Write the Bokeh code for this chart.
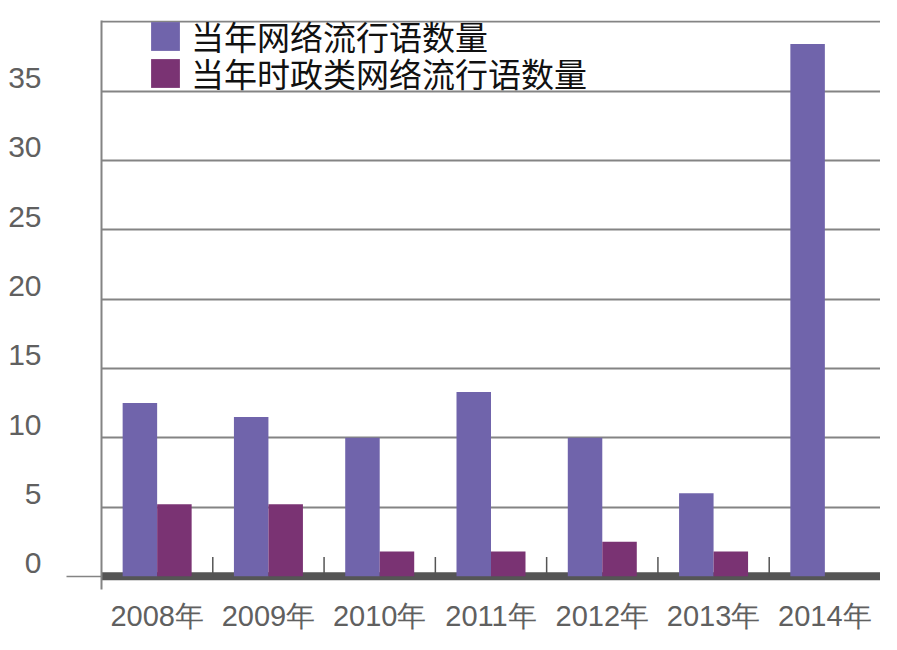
from bokeh.plotting import figure
from bokeh.models import (FactorRange, Range1d, LinearAxis, CategoricalAxis,
                          FixedTicker, Grid, Span, ColumnDataSource, Legend, LegendItem)
from bokeh.transform import dodge
from bokeh.embed import file_html
from bokeh.resources import INLINE

# ---- data ----
years = ["2008年", "2009年", "2010年", "2011年", "2012年", "2013年", "2014年"]
total_counts = [12.5, 11.5, 10, 13.3, 10, 6, 38.4]
political_counts = [5.2, 5.2, 1.8, 1.8, 2.5, 1.8, 0]
series_names = ["当年网络流行语数量", "当年时政类网络流行语数量"]
y_tick_values = [0, 5, 10, 15, 20, 25, 30, 35]
grid_values = [5, 10, 15, 20, 25, 30, 35, 40]

PURPLE = "#7064AB"
PLUM = "#7A3373"
GRID = "#848484"
AXIS_DARK = "#555555"
LABEL_GRAY = "#606060"
NUM_FONT = "Liberation Sans"

Y0, Y1 = -0.95, 40.1
LABEL_LIFT = 0.95  # tick labels sit a little above their grid lines

src = ColumnDataSource(dict(year=years, total=total_counts, pol=political_counts))

p = figure(width=880, height=634,
           x_range=FactorRange(*years), y_range=Range1d(Y0, Y1),
           output_backend="svg", toolbar_location=None,
           x_axis_location=None, y_axis_location=None,
           min_border_left=101, min_border_right=0,
           min_border_top=20, min_border_bottom=44)
p.outline_line_color = None
for r in list(p.center):
    if isinstance(r, Grid):
        r.visible = False
p.extra_y_ranges = {"labels": Range1d(Y0 - LABEL_LIFT, Y1 - LABEL_LIFT)}

# horizontal grid
p.add_layout(Grid(dimension=1, ticker=FixedTicker(ticks=grid_values),
                  grid_line_color=GRID, grid_line_width=2, level="underlay"))

# thick baseline
p.add_layout(Span(location=0, dimension="width", line_color=AXIS_DARK,
                  line_width=8, level="underlay"))

# boundary tick marks between categories
bsrc = ColumnDataSource(dict(b=years[:-1]))
p.segment(x0=dodge("b", 0.5, range=p.x_range), x1=dodge("b", 0.5, range=p.x_range),
          y0=0, y1=1.4, source=bsrc, line_color=AXIS_DARK, line_width=1.5)

bw = 0.31
r1 = p.vbar(x=dodge("year", -bw / 2, range=p.x_range), top="total", width=bw,
            source=src, fill_color=PURPLE, line_color=None)
r2 = p.vbar(x=dodge("year", bw / 2, range=p.x_range), top="pol", width=bw,
            source=src, fill_color=PLUM, line_color=None)

# left axes: inner one draws the vertical line and the zero tick, outer one the labels
tick_axis = LinearAxis(ticker=FixedTicker(ticks=[0]), axis_line_color=GRID,
                       axis_line_width=2, major_tick_out=35, major_tick_in=0,
                       major_tick_line_color=GRID, major_tick_line_width=1.5,
                       minor_tick_line_color=None, major_label_text_font_size="1px",
                       major_label_overrides={0: ""},
                       major_label_standoff=0)
label_axis = LinearAxis(ticker=FixedTicker(ticks=y_tick_values), axis_line_color=None,
                        y_range_name="labels",
                        major_tick_line_color=None, minor_tick_line_color=None,
                        major_label_standoff=19, major_label_text_font=NUM_FONT,
                        major_label_text_font_size="30px",
                        major_label_text_color=LABEL_GRAY)
p.add_layout(tick_axis, "left")
p.add_layout(label_axis, "left")

xaxis = CategoricalAxis(axis_line_color=None, major_tick_line_color=None,
                        minor_tick_line_color=None, major_label_standoff=4,
                        major_label_text_font=NUM_FONT,
                        major_label_text_font_size="29px",
                        major_label_text_color=LABEL_GRAY)
p.add_layout(xaxis, "below")


def make_legend(name, renderer, loc):
    lg = Legend(items=[LegendItem(label=name, renderers=[renderer])],
                location=loc, padding=0, spacing=0, margin=0,
                glyph_width=36, glyph_height=36, label_height=37,
                label_standoff=8, border_line_color=None,
                background_fill_alpha=0, label_text_font="Noto Sans CJK SC",
                label_text_font_size="33px", label_text_color="#111111")
    p.add_layout(lg, "center")


make_legend(series_names[0], r1, (46, 529))
make_legend(series_names[1], r2, (46, 492))

open("out.html", "w").write(file_html(p, INLINE))
